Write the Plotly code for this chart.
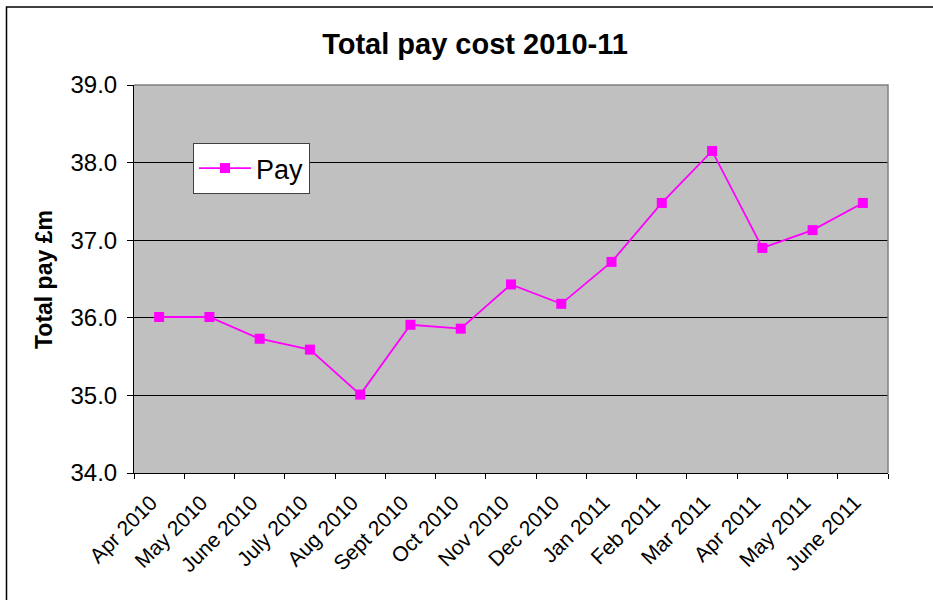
import plotly.graph_objects as go

months = ["Apr 2010", "May 2010", "June 2010", "July 2010", "Aug 2010", "Sept 2010",
          "Oct 2010", "Nov 2010", "Dec 2010", "Jan 2011", "Feb 2011", "Mar 2011",
          "Apr 2011", "May 2011", "June 2011"]
pay = [36.01, 36.01, 35.73, 35.59, 35.01, 35.91, 35.86, 36.43, 36.18, 36.72,
       37.48, 38.15, 36.90, 37.13, 37.48]
y_ticks = [34.0, 35.0, 36.0, 37.0, 38.0, 39.0]

FONT = "Arial, Liberation Sans, Helvetica, sans-serif"
W, H = 933, 600
L, R, T, B = 134, 45, 85, 127
pw, ph = W - L - R, H - T - B

fig = go.Figure()
fig.add_trace(go.Scatter(
    x=months, y=pay, mode="lines+markers", name="Pay",
    line=dict(color="#FF00FF", width=1.8),
    marker=dict(symbol="square", size=10, color="#FF00FF"),
))

fig.update_layout(
    width=W, height=H,
    margin=dict(l=L, r=R, t=T, b=B),
    paper_bgcolor="white",
    plot_bgcolor="#C0C0C0",
    font=dict(family=FONT, color="black"),
    title=dict(text="<b>Total pay cost 2010-11</b>", x=475 / W, xanchor="center",
               xref="container",
               y=1 - 44 / H, yanchor="middle", yref="container",
               font=dict(size=29, family=FONT, color="black")),
    showlegend=True,
    legend=dict(x=(193 - L) / pw, y=(H - B - 143) / ph, xanchor="left", yanchor="top",
                bgcolor="white", bordercolor="#404040", borderwidth=1,
                font=dict(size=27, family=FONT, color="black"),
                itemwidth=52),
    xaxis=dict(type="category", tickson="boundaries", ticks="outside", ticklen=5,
               tickcolor="black", tickwidth=1, showline=True, linecolor="black",
               linewidth=1, showgrid=False, tickangle=-45,
               ticklabelstandoff=8, ticklabelshift=-8,
               tickfont=dict(size=21, family=FONT, color="black"),
               range=[-0.5, len(months) - 0.5]),
    yaxis=dict(range=[34, 39], tickvals=y_ticks, tickformat=".1f", ticks="outside",
               ticklen=6, tickcolor="black", showline=True, linecolor="black",
               linewidth=1, showgrid=True, gridcolor="black", gridwidth=1,
               ticklabelstandoff=5,
               zeroline=False, tickfont=dict(size=24, family=FONT, color="black")),
    annotations=[dict(text="<b>Total pay £m</b>", textangle=-90, xref="paper", yref="paper",
                      x=(44 - L) / pw, y=(H - B - 280) / ph, xanchor="center",
                      yanchor="middle", showarrow=False,
                      font=dict(size=23, family=FONT, color="black"))],
    shapes=[
        dict(type="path", xref="paper", yref="paper", path="M 0,1 L 1,1 L 1,0",
             line=dict(color="#808080", width=1.5)),
        dict(type="rect", xref="paper", yref="paper",
             x0=(6.5 - L) / pw, x1=(945 - L) / pw,
             y0=(H - B - 615) / ph, y1=(H - B - 7) / ph,
             line=dict(color="black", width=1.5), fillcolor="rgba(0,0,0,0)"),
    ],
)

fig.write_html("out.html")
